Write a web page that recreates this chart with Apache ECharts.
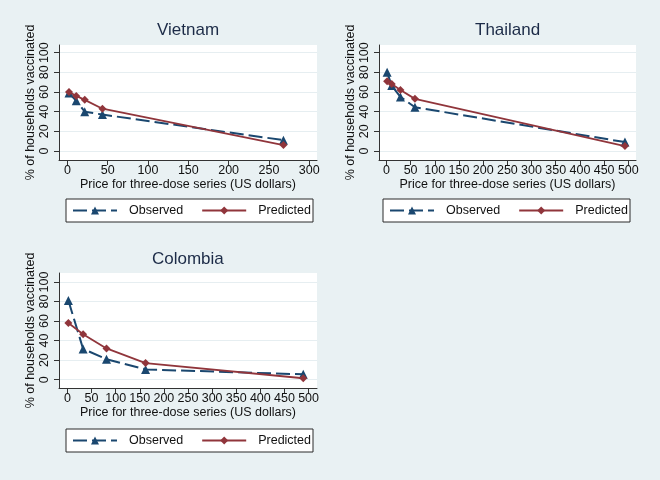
<!DOCTYPE html>
<html>
<head>
<meta charset="utf-8">
<script src="https://cdn.jsdelivr.net/npm/echarts@6/dist/echarts.min.js"></script>
<style>
html,body{margin:0;padding:0;background:#e9f1f3;}
#chart{width:660px;height:480px;}
</style>
</head>
<body>
<div id="chart"></div>
<script>
// ---- data ----
const panelTitles = ['Vietnam', 'Thailand', 'Colombia'];
const seriesNames = ['Observed', 'Predicted'];

const vietnamPrice = [2, 11, 21.5, 43.5, 268];
const vietnamObserved = [59, 51, 40, 37, 11];
const vietnamPredicted = [60, 56, 52, 43, 6];

const thailandPrice = [1.5, 11, 29, 59, 493];
const thailandObserved = [80, 66.5, 55, 44.5, 9];
const thailandPredicted = [71, 68, 62, 53, 5];

const colombiaPrice = [2, 32.5, 81, 162, 489];
const colombiaObserved = [81, 31.5, 21, 10.5, 5.5];
const colombiaPredicted = [58, 46.5, 32, 17, 1.5];

const yTicks = [0, 20, 40, 60, 80, 100];
const xTicksVietnam = [0, 50, 100, 150, 200, 250, 300];
const xTicksWide = [0, 50, 100, 150, 200, 250, 300, 350, 400, 450, 500];

const xAxisTitle = 'Price for three-dose series (US dollars)';
const yAxisTitle = '% of households vaccinated';

// ---- layout / style ----
const FONT = '"Liberation Sans", Arial, Helvetica, sans-serif';
const NAVY = '#1a476f';
const MAROON = '#90353b';

const panels = [
  {grid: {left: 59, top: 45, width: 258, height: 115}, xMin: -10.4, xMax: 309.6, yMin: -9.2, yMax: 107.8,
   xTicks: xTicksVietnam, price: vietnamPrice, obs: vietnamObserved, pred: vietnamPredicted,
   titlePos: {left: 157, top: 22}, legendPos: {left: 66, top: 199}},
  {grid: {left: 379, top: 45, width: 257, height: 115}, xMin: -15.3, xMax: 515.9, yMin: -9.2, yMax: 107.8,
   xTicks: xTicksWide, price: thailandPrice, obs: thailandObserved, pred: thailandPredicted,
   titlePos: {left: 475, top: 22}, legendPos: {left: 383, top: 199}},
  {grid: {left: 59, top: 273, width: 258, height: 115}, xMin: -17.5, xMax: 517.5, yMin: -8.5, yMax: 109.2,
   xTicks: xTicksWide, price: colombiaPrice, obs: colombiaObserved, pred: colombiaPredicted,
   titlePos: {left: 152, top: 251}, legendPos: {left: 66, top: 429}}
];

const zip = (xs, ys) => xs.map((x, i) => [x, ys[i]]);

const option = {
  backgroundColor: '#e9f1f3',
  animation: false,
  textStyle: {fontFamily: FONT},
  title: panels.map((p, i) => ({
    text: panelTitles[i], left: p.titlePos.left, top: p.titlePos.top, padding: 0,
    textStyle: {fontFamily: FONT, fontSize: 17, fontWeight: 'normal', color: '#1c2b47'}
  })),
  legend: panels.map(p => ({
    data: seriesNames, left: p.legendPos.left, top: p.legendPos.top, orient: 'horizontal',
    backgroundColor: '#ffffff', borderColor: '#2a2a2a', borderWidth: 1, borderRadius: 0,
    padding: [5, 2, 5, 6], itemGap: 18, itemWidth: 44, itemHeight: 10,
    selectedMode: false,
    textStyle: {fontFamily: FONT, fontSize: 12.5, color: '#111', padding: [0, 0, 0, 7]}
  })),
  grid: panels.map(p => Object.assign({show: true, backgroundColor: '#ffffff', borderWidth: 0, containLabel: false}, p.grid)),
  xAxis: panels.map((p, i) => ({
    type: 'value', gridIndex: i, min: p.xMin, max: p.xMax,
    name: xAxisTitle, nameLocation: 'middle', nameGap: 18,
    nameTextStyle: {fontFamily: FONT, fontSize: 12.5, color: '#111'},
    axisLine: {show: true, onZero: false, lineStyle: {color: '#333', width: 1}},
    axisTick: {show: true, length: 5, customValues: p.xTicks, lineStyle: {color: '#333'}},
    axisLabel: {customValues: p.xTicks, margin: 4, fontFamily: FONT, fontSize: 12.5, color: '#111'},
    splitLine: {show: false}
  })),
  yAxis: panels.map((p, i) => ({
    type: 'value', gridIndex: i, min: p.yMin, max: p.yMax,
    name: yAxisTitle, nameLocation: 'middle', nameGap: 21,
    nameTextStyle: {fontFamily: FONT, fontSize: 12.5, color: '#111'},
    axisLine: {show: true, onZero: false, lineStyle: {color: '#333', width: 1}},
    axisTick: {show: true, length: 5, customValues: yTicks, lineStyle: {color: '#333'}},
    axisLabel: {customValues: yTicks, rotate: 90, margin: 8, fontFamily: FONT, fontSize: 12.5, color: '#111'},
    splitLine: {show: true, customValues: yTicks, lineStyle: {color: '#e6eef1', width: 1}}
  })),
  series: []
};

panels.forEach((p, i) => {
  option.series.push({
    name: seriesNames[0], type: 'line', xAxisIndex: i, yAxisIndex: i,
    data: zip(p.price, p.obs),
    symbol: 'triangle', symbolSize: 9,
    itemStyle: {color: NAVY},
    lineStyle: {color: NAVY, width: 2, type: [14, 5]},
    z: 3
  });
  option.series.push({
    name: seriesNames[1], type: 'line', xAxisIndex: i, yAxisIndex: i,
    data: zip(p.price, p.pred),
    symbol: 'diamond', symbolSize: 8,
    itemStyle: {color: MAROON},
    lineStyle: {color: MAROON, width: 1.8, type: 'solid'},
    z: 4
  });
});

const chart = echarts.init(document.getElementById('chart'), null, {renderer: 'canvas'});
chart.setOption(option);
</script>
</body>
</html>
